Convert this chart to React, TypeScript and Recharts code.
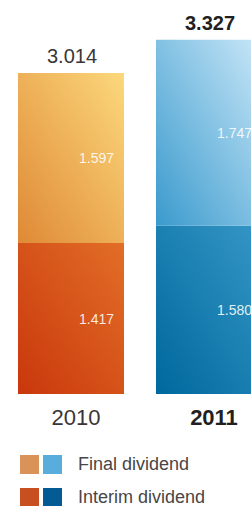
import { Bar, BarChart, Cell, LabelList, XAxis, YAxis } from "recharts";

const years = ["2010", "2011"];
const interimDividend = [1.417, 1.58];
const finalDividend = [1.597, 1.747];
const totalDividend = [3.014, 3.327];

const FONT = "'Liberation Sans', Arial, Helvetica, sans-serif";

// per-year colour pairs: light end (top right) / dark end (bottom left)
const FINAL_GRAD = [
  ["#fcd87c", "#df8935"],
  ["#c9e7f8", "#3a9acd"],
];
const INTERIM_GRAD = [
  ["#e26e27", "#c9370c"],
  ["#3597c6", "#00689d"],
];
const LEGEND_FINAL = ["#d99257", "#59addc"];
const LEGEND_INTERIM = ["#c84f1f", "#045b93"];

const data = years.map((year, i) => ({
  year,
  interim: interimDividend[i],
  final: finalDividend[i],
  total: totalDividend[i],
}));

function YearTick(props: any) {
  const { x, payload } = props;
  const bold = payload.value === "2011";
  return (
    <text
      x={x + 5}
      y={417}
      textAnchor="middle"
      dominantBaseline="central"
      fontFamily={FONT}
      fontSize={22}
      fontWeight={bold ? 700 : 400}
      fill={bold ? "#231f20" : "#3a3536"}
    >
      {payload.value}
    </text>
  );
}

function TotalLabel(props: any) {
  const { x, y, width, index } = props;
  const bold = index === 1;
  return (
    <text
      x={x + width / 2 + 1}
      y={y - 17}
      textAnchor="middle"
      dominantBaseline="central"
      fontFamily={FONT}
      fontSize={20}
      fontWeight={bold ? 700 : 400}
      fill={bold ? "#231f20" : "#3a3536"}
    >
      {totalDividend[index].toFixed(3)}
    </text>
  );
}

function LegendRow({ colors, label, top }: { colors: string[]; label: string; top: number }) {
  return (
    <div style={{ position: "absolute", left: 20, top, height: 19, display: "flex", alignItems: "center" }}>
      <div style={{ width: 19, height: 19, background: colors[0] }} />
      <div style={{ width: 19, height: 19, background: colors[1], marginLeft: 4 }} />
      <span style={{ marginLeft: 16, fontFamily: FONT, fontSize: 18, lineHeight: "19px", color: "#4a4546" }}>
        {label}
      </span>
    </div>
  );
}

export default function App() {
  return (
    <div style={{ position: "absolute", left: 0, top: 0, width: 251, height: 506, overflow: "hidden", background: "#fff" }}>
      <BarChart
        width={280}
        height={440}
        data={data}
        margin={{ top: 21.25, right: 2, bottom: 0, left: 2 }}
        barCategoryGap={16}
      >
        <defs>
          {years.map((y, i) => (
            <linearGradient key={"f" + y} id={"final" + i} x1="0" y1="1" x2="1" y2="0">
              <stop offset="0%" stopColor={FINAL_GRAD[i][1]} />
              <stop offset="100%" stopColor={FINAL_GRAD[i][0]} />
            </linearGradient>
          ))}
          {years.map((y, i) => (
            <linearGradient key={"i" + y} id={"interim" + i} x1="0" y1="1" x2="1" y2="0">
              <stop offset="0%" stopColor={INTERIM_GRAD[i][1]} />
              <stop offset="100%" stopColor={INTERIM_GRAD[i][0]} />
            </linearGradient>
          ))}
        </defs>
        <XAxis dataKey="year" axisLine={false} tickLine={false} height={46} tick={<YearTick />} interval={0} />
        <YAxis hide domain={[0, 3.5]} />
        <Bar dataKey="interim" stackId="d" isAnimationActive={false}>
          {data.map((d, i) => (
            <Cell key={d.year} fill={`url(#interim${i})`} />
          ))}
          <LabelList
            dataKey="interim"
            position="insideRight"
            offset={10}
            formatter={(v: any) => Number(v).toFixed(3)}
            style={{ fill: "rgba(255,255,255,0.88)", fontSize: 14, fontFamily: FONT }}
          />
        </Bar>
        <Bar dataKey="final" stackId="d" isAnimationActive={false}>
          {data.map((d, i) => (
            <Cell key={d.year} fill={`url(#final${i})`} />
          ))}
          <LabelList
            dataKey="final"
            position="insideRight"
            offset={10}
            formatter={(v: any) => Number(v).toFixed(3)}
            style={{ fill: "rgba(255,255,255,0.88)", fontSize: 14, fontFamily: FONT }}
          />
          <LabelList dataKey="total" content={<TotalLabel />} />
        </Bar>
      </BarChart>
      <LegendRow colors={LEGEND_FINAL} label="Final dividend" top={455} />
      <LegendRow colors={LEGEND_INTERIM} label="Interim dividend" top={488} />
    </div>
  );
}
